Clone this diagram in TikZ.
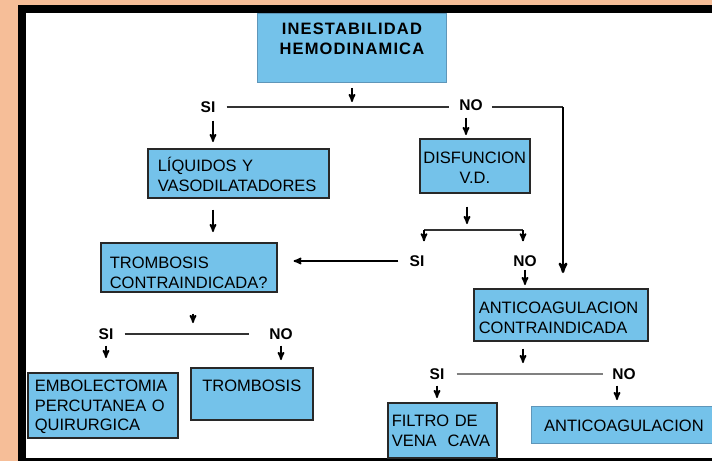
\documentclass[tikz,border=0pt]{standalone}
\usepackage{fontspec}
\setmainfont{Liberation Sans}
\newfontfamily\headfont{Liberation Sans}[LetterSpace=7]
\usetikzlibrary{arrows}
\definecolor{peach}{RGB}{246,190,152}
\definecolor{boxblue}{RGB}{116,194,234}
\definecolor{boxline}{RGB}{40,40,40}
\definecolor{paleline}{RGB}{95,150,185}
\definecolor{rulegray}{RGB}{50,50,50}

\begin{document}
\begin{tikzpicture}[x=1pt,y=-1pt,>=stealth',
    box/.style={draw=boxline,fill=boxblue,line width=1.6pt,anchor=north west,inner ysep=0pt,
      font=\fontsize{16.5}{19.5}\selectfont},
    pale box/.style={box,draw=paleline,line width=0.8pt},
    answer/.style={font=\bfseries\fontsize{15.5}{17}\selectfont,inner sep=1pt},
    link/.style={draw=rulegray,line width=1.3pt},
    arr/.style={->,line width=1.7pt}]

  % page and frame
  \useasboundingbox (0,0) rectangle (712,461);
  \fill[peach] (0,0) rectangle (712,461);
  \fill[black] (18,5) rectangle (712,461);
  \fill[white] (26,13) rectangle (712,458);

  % boxes
  \node[pale box,text width=189pt,inner xsep=0pt,align=center,text height=21pt,text depth=48pt,
        font=\headfont\bfseries\fontsize{16.5}{20}\selectfont] (inest) at (257,13) {INESTABILIDAD\\HEMODINAMICA};
  \node[box,text width=161pt,inner xsep=10pt,align=left,text height=23pt,text depth=26pt] (liq) at (147,148) {LÍQUIDOS Y\\VASODILATADORES};
  \node[box,text width=110pt,inner xsep=0pt,align=center,text height=25pt,text depth=29pt] (disf) at (419,138) {DISFUNCION\\V.D.};
  \node[box,text width=158pt,inner xsep=9pt,align=left,text height=26pt,text depth=23pt] (tcontra) at (100,242) {TROMBOSIS\\CONTRAINDICADA?};
  \node[box,text width=164pt,inner xsep=5pt,align=left,text height=25pt,text depth=27pt] (acontra) at (473,288) {ANTICOAGULACION\\CONTRAINDICADA};
  \node[box,text width=136pt,inner xsep=7pt,align=left,text height=19pt,text depth=46pt] (embol) at (27,372) {EMBOLECTOMIA\\PERCUTANEA O\\QUIRURGICA};
  \node[box,text width=122pt,inner xsep=0pt,align=center,text height=24pt,text depth=28pt] (tromb) at (190,367) {TROMBOSIS};
  \node[box,text width=101pt,inner xsep=4pt,align=left,text height=24pt,text depth=31pt] (filtro) at (387,402) {FILTRO DE\\VENA\ \ CAVA};
  \node[pale box,text width=185pt,inner xsep=0pt,align=center,text height=25pt,text depth=12pt] (antico) at (531,406) {ANTICOAGULACION};

  % si / no
  \node[answer] (si1) at (208,107) {SI};
  \node[answer] (no1) at (471,105) {NO};
  \node[answer] (si2) at (417,261) {SI};
  \node[answer] (no2) at (525,261) {NO};
  \node[answer] (si3) at (106,334) {SI};
  \node[answer] (no3) at (281,334) {NO};
  \node[answer] (si4) at (437,374) {SI};
  \node[answer] (no4) at (624,374) {NO};

  \coordinate (fork1) at (352,107);
  \coordinate (turn) at (563,107);
  \coordinate (split) at (467,230);
  \coordinate (splitL) at (424,230);
  \coordinate (splitR) at (523,230);
  \coordinate (fork2) at (193,334);
  \coordinate (fork3) at (523,374);

  % first decision
  \draw[arr,shorten <=5pt,shorten >=5pt] (inest.south -| fork1) -- (fork1);
  \draw[link,shorten <=10pt,shorten >=9pt] (si1.east) -- (si1.east -| no1.west);
  \draw[link,shorten <=8pt] (no1.east |- turn) -- (turn);
  \draw[arr,line width=2.4pt,shorten >=15pt] (turn) -- (turn |- acontra.north);
  \draw[arr,shorten <=7pt,shorten >=6pt] ([xshift=5pt]si1.south) -- ([xshift=5pt]si1.south |- liq.north);
  \draw[arr,shorten <=6pt,shorten >=3pt] ([xshift=-5pt]no1.south) -- ([xshift=-5pt]no1.south |- disf.north);
  \draw[arr,shorten <=11pt,shorten >=10pt] ([xshift=5pt]si1.south |- liq.south) -- ([xshift=5pt]si1.south |- tcontra.north);

  % right branch
  \draw[arr,shorten <=13pt,shorten >=6pt] (disf.south -| split) -- (split);
  \draw[link,line width=2pt] (splitL) -- (splitR);
  \draw[arr,shorten >=13pt] (splitL) -- (splitL |- si2.north);
  \draw[arr,shorten >=13pt] (splitR) -- (splitR |- no2.north);
  \draw[arr,shorten <=10pt,shorten >=16pt] (si2.west) -- (si2.west -| tcontra.east);
  \draw[arr,shorten <=2pt,shorten >=3pt] (no2.south) -- (no2.south |- acontra.north);

  % trombosis contraindicada?
  \draw[arr,shorten <=21pt,shorten >=11pt] (tcontra.south -| fork2) -- (fork2);
  \draw[link,shorten <=10pt,shorten >=19pt] (si3.east) -- (si3.east -| no3.west);
  \draw[arr,shorten <=5pt,shorten >=14pt] (si3.south) -- (si3.south |- embol.north);
  \draw[arr,shorten <=5pt,shorten >=7pt] (no3.south) -- (no3.south |- tromb.north);

  % anticoagulacion contraindicada
  \draw[arr,shorten <=7pt,shorten >=11pt] (acontra.south -| fork3) -- (fork3);
  \draw[link,draw=gray,shorten <=11pt,shorten >=8pt] (si4.east) -- (si4.east -| no4.west);
  \draw[arr,shorten <=5pt,shorten >=4pt] (si4.south) -- (si4.south |- filtro.north);
  \draw[arr,shorten <=5pt,shorten >=6pt] ([xshift=-7pt]no4.south) -- ([xshift=-7pt]no4.south |- antico.north);
\end{tikzpicture}
\end{document}
